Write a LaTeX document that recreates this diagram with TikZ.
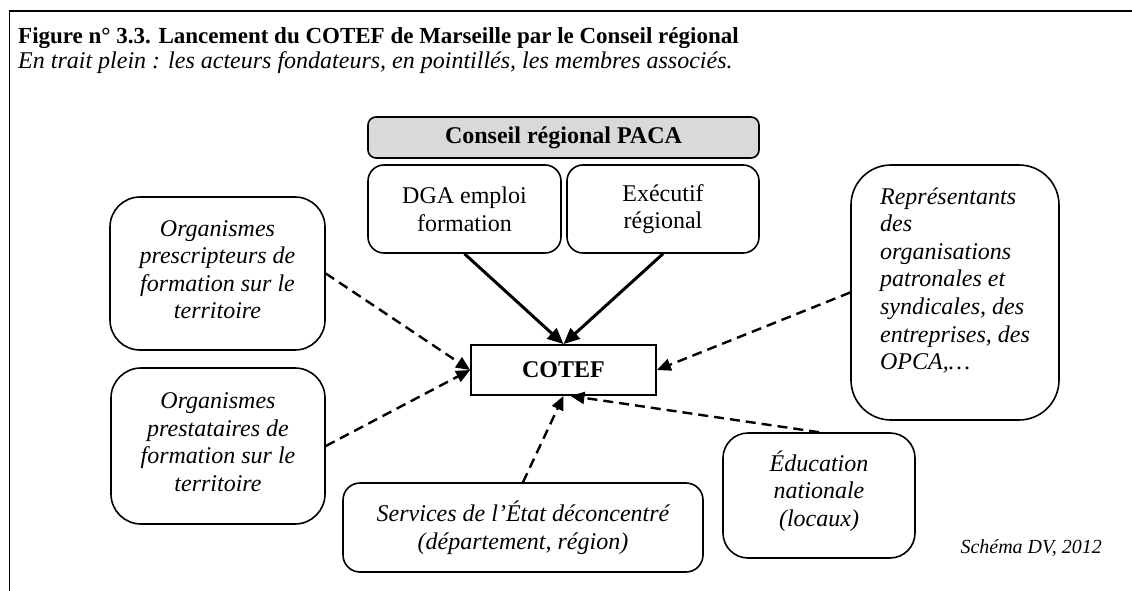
\documentclass[tikz,border=0pt]{standalone}
\usepackage{fontspec}
\setmainfont{Liberation Serif}
\usetikzlibrary{arrows.meta}
\definecolor{boxgray}{HTML}{D9D9D9}
\tikzset{
  boxtext/.style={font=\fontsize{24}{27.6}\selectfont},
  rbox/.style={draw, line width=1.6pt, rounded corners=#1, inner sep=0pt, align=center, boxtext},
  rbox/.default=16pt,
  solidarrow/.style={line width=3pt, -{Triangle[length=16pt,width=14pt]}},
  dasharrow/.style={line width=2.4pt, dash pattern=on 10pt off 6pt, -{Triangle[length=14pt,width=12pt]}},
}
\begin{document}
\begin{tikzpicture}[x=1pt,y=-1pt]
\useasboundingbox (0,0) rectangle (1132,591);
% frame
\draw[line width=1.6pt] (9.5,591) -- (9.5,11) -- (1132,11);
% title
\node[anchor=base west, inner sep=0pt, font=\fontsize{23}{25}\selectfont\bfseries] (title) at (18,44)
  {Figure n° 3.3. Lancement du COTEF de Marseille par le Conseil régional};
\node[anchor=base west, inner sep=0pt, font=\fontsize{24}{25}\selectfont\itshape] (subtitle) at (18,69)
  {En trait plein : les acteurs fondateurs, en pointillés, les membres associés.};
% Conseil regional
\node[rbox=8pt, fill=boxgray, minimum width=391pt, minimum height=41pt, font=\fontsize{24}{27.6}\selectfont\bfseries] (cr) at (563.5,137.5) {Conseil régional PACA};
\node[rbox=16pt, minimum width=193pt, minimum height=88pt] (dga) at (464.5,209) {DGA emploi\\formation};
\node[rbox=16pt, minimum width=192pt, minimum height=88pt] (exec) at (663,209) {Exécutif\\régional};
% COTEF
\node[draw, line width=1.8pt, minimum width=185pt, minimum height=50pt, inner sep=0pt, font=\fontsize{24}{27.6}\selectfont\bfseries] (cotef) at (563.5,370) {COTEF};
% left boxes
\node[rbox=30pt, minimum width=215pt, minimum height=153pt, font=\fontsize{24}{27.6}\selectfont\itshape] (prescr) at (217.5,273.5)
  {Organismes\\prescripteurs de\\formation sur le\\territoire\rule[-8pt]{0pt}{8pt}};
\node[rbox=30pt, minimum width=214pt, minimum height=156pt, font=\fontsize{24}{27.6}\selectfont\itshape] (prest) at (218,446)
  {Organismes\\prestataires de\\formation sur le\\territoire\rule[-8pt]{0pt}{8pt}};
% right box
\node[rbox=40pt, minimum width=208pt, minimum height=255pt, align=left, font=\fontsize{24}{27.6}\selectfont\itshape] (rep) at (955,292.5)
  {\hspace*{0pt}Représentants\\des\\organisations\\patronales et\\syndicales, des\\entreprises, des\\OPCA,…\rule[-28pt]{0pt}{28pt}};
% bottom boxes
\node[rbox=17pt, minimum width=360pt, minimum height=89pt, font=\fontsize{24}{27.6}\selectfont\itshape] (serv) at (523,527.5)
  {Services de l’État déconcentré\\(département, région)};
\node[rbox=25pt, minimum width=192pt, minimum height=125pt, font=\fontsize{24}{27.6}\selectfont\itshape] (educ) at (819,495.5)
  {Éducation\\nationale\\(locaux)\rule[-14pt]{0pt}{14pt}};
\node[anchor=base east, inner sep=0pt, font=\fontsize{20}{23}\selectfont\itshape] (credit) at (1102,553) {Schéma DV, 2012};
% connectors
\draw[solidarrow] (dga.south) -- (cotef.north);
\draw[solidarrow] (exec.south) -- (cotef.north);
\draw[dasharrow] (prescr.east) -- (cotef.west);
\draw[dasharrow] (prest.east) -- (cotef.west);
\draw[dasharrow] (rep.west) -- (cotef.east);
\draw[dasharrow] (serv.north) -- (cotef.south);
\draw[dasharrow] (educ.north) -- ([xshift=7pt]cotef.south);
\end{tikzpicture}
\end{document}
